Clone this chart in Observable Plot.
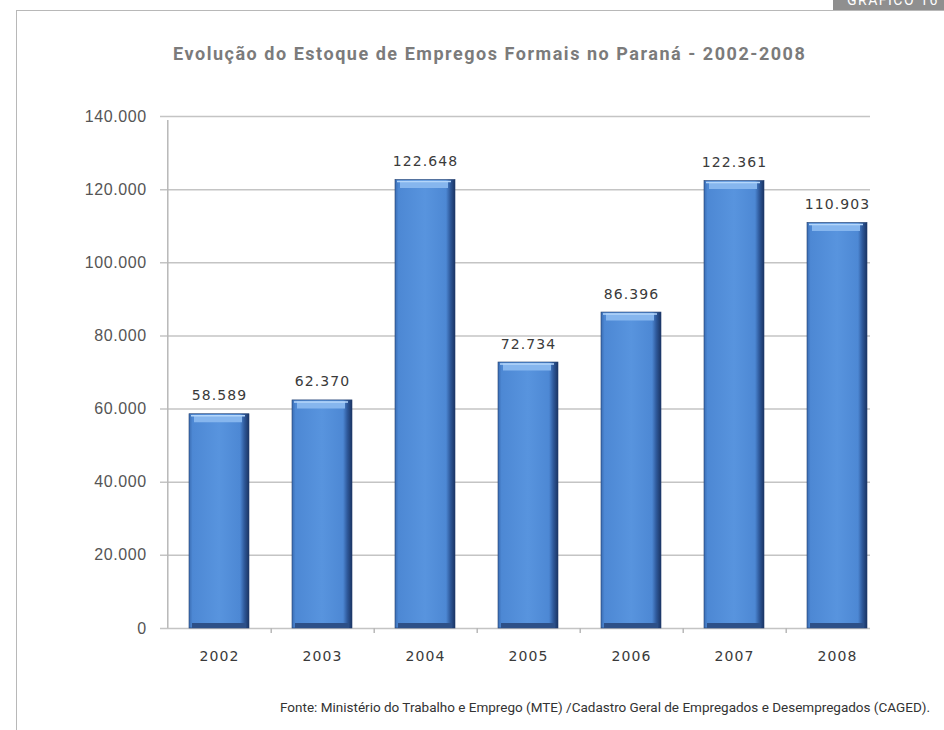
<!DOCTYPE html>
<html>
<head>
<meta charset="utf-8">
<script src="https://cdn.jsdelivr.net/npm/d3@7"></script>
<script src="https://cdn.jsdelivr.net/npm/@observablehq/plot@0.6"></script>
<style>
  html, body { margin: 0; padding: 0; background: #fff; }
  #page { position: relative; width: 944px; height: 730px; overflow: hidden; background: #fff; }
  #frameTop { position: absolute; left: 16px; top: 10px; width: 928px; height: 0; border-top: 1.5px solid #b8b8b8; }
  #frameLeft { position: absolute; left: 16px; top: 10px; width: 0; height: 720px; border-left: 1.5px solid #b8b8b8; }
  #tab { position: absolute; left: 833px; top: 0; width: 111px; height: 10px; background: #8f8f8f; overflow: hidden; }
  #tab span { position: absolute; left: 14px; top: -8px; font: 14px "Roboto", sans-serif; letter-spacing: 1.5px; color: #fff; white-space: nowrap; }
  #title { position: absolute; left: 173px; top: 43px; font: bold 18px "Roboto", sans-serif; color: #7b7b7b; letter-spacing: 1.53px; white-space: nowrap; }
  #chart { position: absolute; left: 0; top: 90px; }
  #caption { position: absolute; right: 14px; top: 699px; font: 13.5px "Roboto", sans-serif; color: #333; white-space: nowrap; }
</style>
</head>
<body>
<div id="page">
  <div id="frameTop"></div>
  <div id="frameLeft"></div>
  <div id="tab"><span>GRÁFICO 16</span></div>
  <div id="title">Evolução do Estoque de Empregos Formais no Paraná - 2002-2008</div>
  <div id="chart"></div>
  <div id="caption">Fonte: Ministério do Trabalho e Emprego (MTE) /Cadastro Geral de Empregados e Desempregados (CAGED).</div>
</div>
<script>
const years = ["2002", "2003", "2004", "2005", "2006", "2007", "2008"];
const values = [58589, 62370, 122648, 72734, 86396, 122361, 110903];
const yTicks = [0, 20000, 40000, 60000, 80000, 100000, 120000, 140000];

const data = years.map((y, i) => ({year: y, value: values[i]}));
const br = d3.formatLocale({decimal: ",", thousands: ".", grouping: [3], currency: ["R$", ""]});
const fmt = br.format(",.0f");

const W = 944, H = 600, mL = 166, mR = 54, mT = 26, mB = 62;
const step = (W - mL - mR) / years.length;

const plot = Plot.plot({
  width: W,
  height: H,
  marginLeft: mL,
  marginRight: mR,
  marginTop: mT,
  marginBottom: mB,
  style: {background: "transparent", overflow: "visible"},
  x: {domain: years, paddingInner: 0.42, paddingOuter: 0.21, axis: null},
  y: {domain: [0, 140000], axis: null},
  marks: [
    Plot.ruleY(yTicks, {stroke: "#c4c4c4", strokeWidth: 1.5, insetLeft: -6, insetRight: 20}),
    Plot.ruleX([years[0]], {y1: 0, y2: 140000, dx: -step / 2, stroke: "#b8b8b8", strokeWidth: 1.5, insetBottom: -4}),
    Plot.ruleX(years.slice(0, -1), {x: d => d, y1: 0, y2: 0, dx: step / 2, stroke: "#b8b8b8", strokeWidth: 1.5, insetBottom: -5}),
    Plot.barY(data, {x: "year", y: "value", fill: "url(#barGrad)", stroke: "#233f6e", strokeWidth: 0.6}),
    Plot.tickY(data, {x: "year", y: "value", stroke: "#86b6ee", strokeWidth: 7, dy: 4.5, insetLeft: 5, insetRight: 7}),
    Plot.tickY(data, {x: "year", y: "value", stroke: "#b4d6fa", strokeWidth: 1.5, dy: 1.5, insetLeft: 2, insetRight: 4}),
    Plot.tickY(data, {x: "year", y: d => 0, stroke: "#2d5088", strokeWidth: 5, dy: -3, insetLeft: 3, insetRight: 3}),
    Plot.text(data, {x: "year", y: "value", text: d => fmt(d.value), dy: -14, lineAnchor: "bottom",
      fontFamily: "DejaVu Sans", fontSize: 14, fill: "#3a3a3a"}),
    Plot.text(yTicks, {x: () => years[0], y: d => d, text: d => fmt(d), dx: -step / 2 - 21, textAnchor: "end",
      fontFamily: "Liberation Sans", fontSize: 16, fill: "#555"}),
    Plot.text(years, {x: d => d, y: () => 0, text: d => d, dy: 28,
      fontFamily: "DejaVu Sans", fontSize: 14, fill: "#3a3a3a"})
  ]
});

const svg = d3.select(plot);
const defs = svg.insert("defs", ":first-child");
const g = defs.append("linearGradient").attr("id", "barGrad").attr("x1", "0").attr("x2", "1").attr("y1", "0").attr("y2", "0");
[[0, "#3a6db3"], [0.06, "#4d88d4"], [0.5, "#5894de"], [0.85, "#4d88d4"], [0.92, "#2f5a9c"], [1, "#1a3463"]]
  .forEach(([o, c]) => g.append("stop").attr("offset", o).attr("stop-color", c));

const textGroups = svg.selectAll("g[aria-label='text']").nodes();
d3.select(textGroups[0]).style("letter-spacing", "1.1px");
d3.select(textGroups[1]).style("letter-spacing", "0.6px");
d3.select(textGroups[2]).style("letter-spacing", "1.1px");

document.getElementById("chart").appendChild(plot);
</script>
</body>
</html>
